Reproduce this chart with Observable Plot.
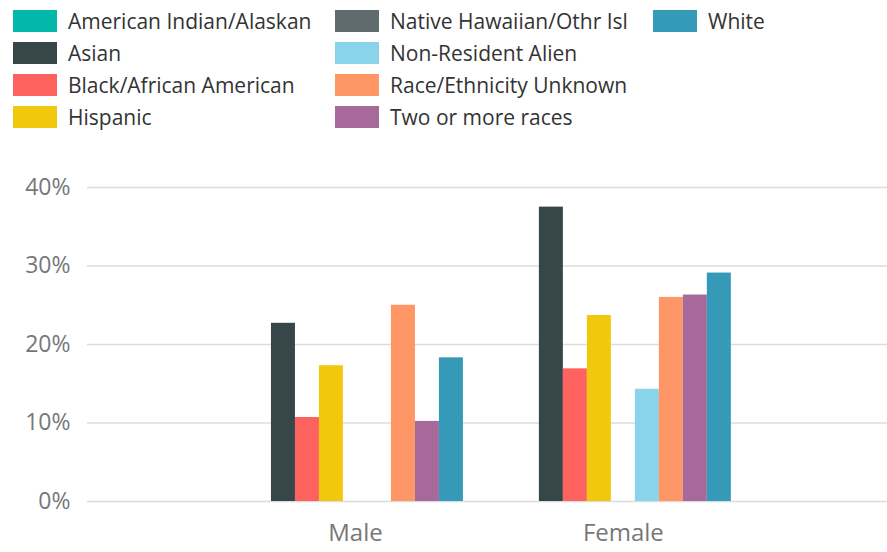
<!DOCTYPE html>
<html>
<head>
<meta charset="utf-8">
<script src="https://cdn.jsdelivr.net/npm/d3@7"></script>
<script src="https://cdn.jsdelivr.net/npm/@observablehq/plot@0.6"></script>
<style>
  html, body { margin: 0; padding: 0; background: #fff; }
  body { width: 887px; height: 552px; overflow: hidden; font-family: "Open Sans", "Noto Sans", sans-serif; }
  #legend {
    box-sizing: border-box; height: 160px; padding: 10px 0 0 13px;
    display: grid; grid-auto-flow: column;
    grid-template-rows: repeat(4, 32px);
    grid-template-columns: 322px 318px auto;
  }
  .item { display: flex; align-items: center; height: 22px; font-size: 21px; color: #333; white-space: nowrap; }
  .sw { width: 44px; height: 22px; margin-right: 11px; flex: none; }
  #chart { position: relative; width: 887px; height: 392px; }
  #chart svg { display: block; position: absolute; left: 0; top: 0; }
</style>
</head>
<body>
<div id="legend"></div>
<div id="chart"></div>
<script>
const races = [
  "American Indian/Alaskan", "Asian", "Black/African American", "Hispanic",
  "Native Hawaiian/Othr Isl", "Non-Resident Alien", "Race/Ethnicity Unknown",
  "Two or more races", "White"
];
const colors = ["#01B8AA", "#374649", "#FD625E", "#F2C80F", "#5F6B6D", "#8AD4EB", "#FE9666", "#A66999", "#3599B8"];
const groups = ["Male", "Female"];
const male   = [null, 22.7, 10.7, 17.3, null, null, 25.0, 10.2, 18.3];
const female = [null, 37.5, 16.9, 23.7, null, 14.3, 26.0, 26.3, 29.1];
const yTicks = [0, 10, 20, 30, 40];

const values = {Male: male, Female: female};
const data = groups.flatMap(g => races.map((r, i) => ({gender: g, race: r, value: values[g][i]})))
  .filter(d => d.value != null);

// legend
const legend = document.getElementById("legend");
races.forEach((r, i) => {
  const it = document.createElement("div");
  it.className = "item";
  const sw = document.createElement("span");
  sw.className = "sw";
  sw.style.background = colors[i];
  it.appendChild(sw);
  it.appendChild(document.createTextNode(r));
  legend.appendChild(it);
});

const font = "'Open Sans', 'Noto Sans', sans-serif";
const common = {
  width: 887,
  height: 392,
  marginLeft: 87,
  marginRight: 0,
  marginTop: 27,
  marginBottom: 51,
  y: {domain: [0, 40], axis: null}
};

// layer 1: grid and y axis spanning the whole frame
const base = Plot.plot({
  ...common,
  style: {fontFamily: font, fontSize: "23px", color: "#777", background: "#fff"},
  x: {domain: groups, axis: null},
  marks: [
    Plot.ruleY(yTicks, {stroke: "#dcdcdc", strokeWidth: 1.5}),
    Plot.axisY(yTicks, {tickSize: 0, tickPadding: 17, tickFormat: d => d + "%", label: null, fill: "#777", fontSize: 23})
  ]
});

// layer 2: grouped bars and category axis
const bars = Plot.plot({
  ...common,
  style: {fontFamily: font, fontSize: "24px", color: "#777", background: "transparent"},
  fx: {domain: groups, paddingInner: 0.194, paddingOuter: 0.59, align: 0.506, round: false, label: null, axis: null},
  x: {domain: races, padding: 0, round: false, axis: null},
  color: {domain: races, range: colors},
  marks: [
    Plot.barY(data, {fx: "gender", x: "race", y: "value", fill: "race"}),
    Plot.axisFx({anchor: "bottom", tickSize: 0, tickPadding: 22, label: null, fill: "#777", fontSize: 24})
  ]
});

const chart = document.getElementById("chart");
chart.appendChild(base);
chart.appendChild(bars);
</script>
</body>
</html>
